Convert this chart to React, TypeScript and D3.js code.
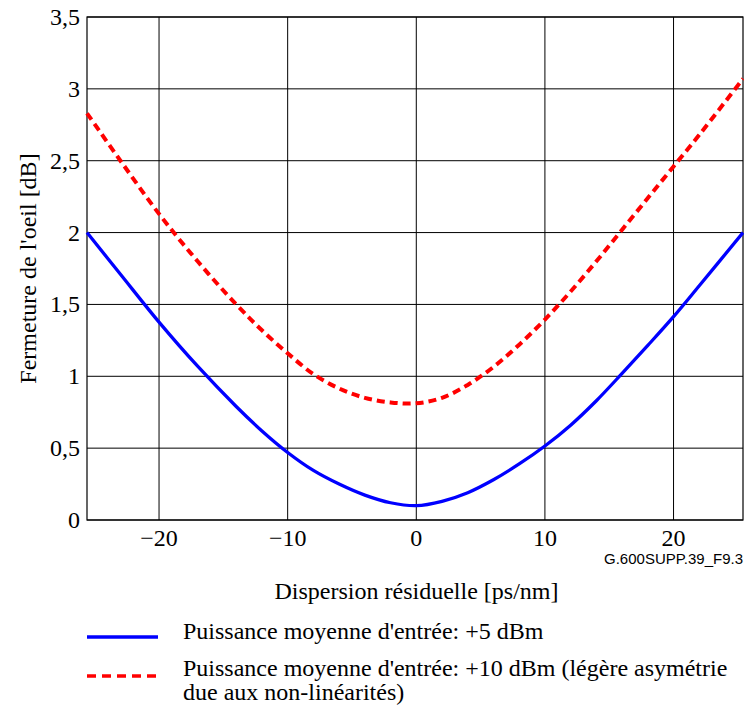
import * as d3 from 'd3';
import React from 'react';

// residual dispersion [ps/nm]
const dispersion = [-25.6, -23, -20, -17, -14, -12, -10, -8, -6, -4, -2, 0, 2, 4, 6, 8, 10, 12, 14, 16, 18, 20, 22, 25.4];
// eye closure [dB], mean input power +5 dBm
const closure5 = [2.0, 1.71, 1.377, 1.07, 0.79, 0.62, 0.47, 0.345, 0.25, 0.173, 0.12, 0.1, 0.13, 0.19, 0.28, 0.39, 0.515, 0.66, 0.83, 1.02, 1.215, 1.415, 1.63, 2.0];
// eye closure [dB], mean input power +10 dBm
const closure10 = [2.83, 2.5, 2.13, 1.8, 1.5, 1.32, 1.16, 1.015, 0.915, 0.85, 0.818, 0.812, 0.85, 0.94, 1.065, 1.22, 1.395, 1.59, 1.8, 2.02, 2.24, 2.46, 2.68, 3.07];

const xTicks = [-20, -10, 0, 10, 20];
const yTicks = [0, 0.5, 1, 1.5, 2, 2.5, 3, 3.5];

const legendLabels = [
    ["Puissance moyenne d'entrée: +5 dBm"],
    ["Puissance moyenne d'entrée: +10 dBm (légère asymétrie", "due aux non-linéarités)"],
];

const serif = '"Liberation Serif", "Times New Roman", serif';
const fs = 24;

export default function App() {
    const width = 744;
    const height = 706;
    const plot = { left: 87, right: 743, top: 17, bottom: 520 };

    const x = d3.scaleLinear().domain([-25.6, 25.4]).range([plot.left, plot.right]);
    const y = d3.scaleLinear().domain([0, 3.5]).range([plot.bottom, plot.top]);

    const line = d3.line<number>()
        .x((d, i) => x(dispersion[i]))
        .y((d) => y(d))
        .curve(d3.curveCatmullRom);

    const fmt = (v: number) => String(v).replace('.', ',');

    return (
        <svg width={width} height={height} style={{ position: 'absolute', left: 0, top: 0, background: 'white' }}>
            {/* grid */}
            {xTicks.map((t) => (
                <line key={'gx' + t} x1={x(t)} x2={x(t)} y1={plot.top} y2={plot.bottom} stroke="#000" strokeWidth={1} />
            ))}
            {yTicks.map((t) => (
                <line key={'gy' + t} x1={plot.left} x2={plot.right} y1={y(t)} y2={y(t)} stroke="#000" strokeWidth={1} />
            ))}
            <rect x={plot.left} y={plot.top} width={plot.right - plot.left} height={plot.bottom - plot.top} fill="none" stroke="#000" strokeWidth={1.2} />

            {/* curves */}
            <path d={line(closure10) || ''} fill="none" stroke="#ff0000" strokeWidth={4} strokeDasharray="8,5" />
            <path d={line(closure5) || ''} fill="none" stroke="#0000ff" strokeWidth={3.3} />

            {/* tick labels */}
            {yTicks.map((t) => (
                <text key={'ty' + t} x={80} y={y(t) + 8} textAnchor="end" fontFamily={serif} fontSize={fs}>{fmt(t)}</text>
            ))}
            {xTicks.map((t) => (
                <text key={'tx' + t} x={x(t)} y={546} textAnchor="middle" fontFamily={serif} fontSize={fs}>
                    {t < 0 ? '\u2212' + Math.abs(t) : t}
                </text>
            ))}

            <text x={743} y={564} textAnchor="end" fontFamily='"Liberation Sans", Arial, sans-serif' fontSize={15}>G.600SUPP.39_F9.3</text>

            {/* axis titles */}
            <text x={416.5} y={599} textAnchor="middle" fontFamily={serif} fontSize={fs}>Dispersion résiduelle [ps/nm]</text>
            <text transform={`translate(36,${(plot.top + plot.bottom) / 2})rotate(-90)`} textAnchor="middle" fontFamily={serif} fontSize={fs}>Fermeture de l'oeil [dB]</text>

            {/* legend */}
            <line x1={87} x2={158} y1={637} y2={637} stroke="#0000ff" strokeWidth={3.5} />
            <line x1={87} x2={158} y1={676} y2={676} stroke="#ff0000" strokeWidth={3.5} strokeDasharray="9,6" />
            <text x={183} y={639} fontFamily={serif} fontSize={fs}>{legendLabels[0][0]}</text>
            <text x={183} y={676} fontFamily={serif} fontSize={fs}>{legendLabels[1][0]}</text>
            <text x={183} y={700} fontFamily={serif} fontSize={fs}>{legendLabels[1][1]}</text>
        </svg>
    );
}
